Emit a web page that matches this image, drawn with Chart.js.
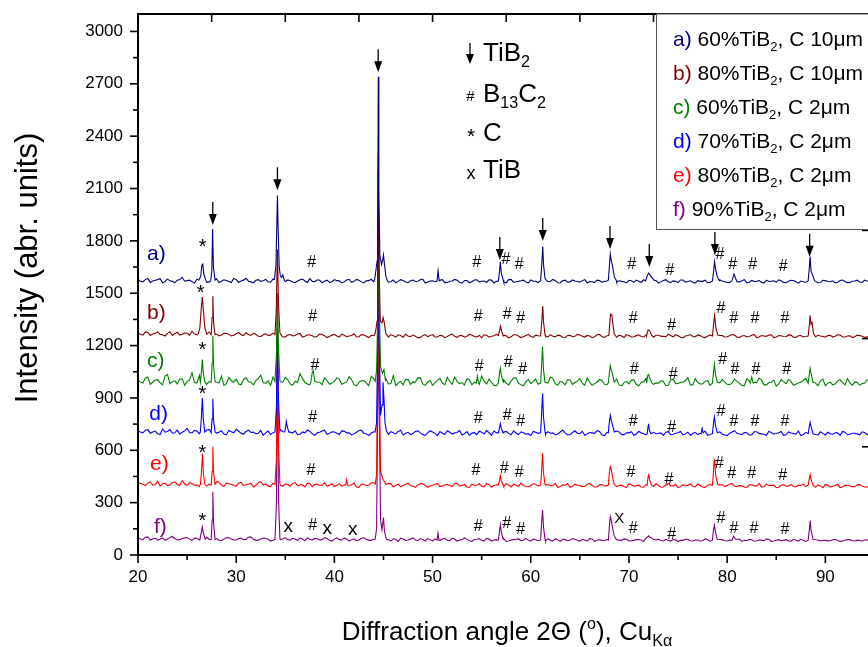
<!DOCTYPE html>
<html><head><meta charset="utf-8">
<style>
html,body{margin:0;padding:0;background:#fff;overflow:hidden;width:868px;height:647px}
#wrap{position:absolute;left:0;top:0;width:900px;height:647px}
canvas{display:block}
</style>
<script src="https://cdn.jsdelivr.net/npm/chart.js@4.4.0/dist/chart.umd.min.js"></script>
</head><body><div id="wrap"><canvas id="c" width="900" height="647"></canvas></div>
<script>
// ---------------- data ----------------
const GRID_START = 20, GRID_STEP = 0.5, MID_START = 20.25;   // baseline sampling grids (degrees 2θ)
const X_MIN = 20, X_MAX = 94.65, Y_MIN = 0, Y_MAX = 3100;
const xMajor = [20,30,40,50,60,70,80,90];
const xMinor = [25,35,45,55,65,75,85];
const yMajor = [0,300,600,900,1200,1500,1800,2100,2400,2700,3000];
const yMinor = [150,450,750,1050,1350,1650,1950,2250,2550,2850];
const topTicks = [27.5,35,42.5,50,57.5,65,72.5,80,87.5];
const rightTicks = [620,1240,1860,2480];

const seriesTags = ['a)','b)','c)','d)','e)','f)'];
const seriesPct = ['60%','80%','60%','70%','80%','90%'];
const seriesC = ['10μm','10μm','2μm','2μm','2μm','2μm'];
const seriesColors = ['#000080','#800000','#008000','#0000ff','#ff0000','#800080'];

const baseA = [1580,1565,1585,1570,1578,1560,1582,1568,1575,1590,
1572,1566,1580,1571,1562,1576,1584,1569,1573,1561,
1578,1570,1586,1565,1574,1568,1579,1563,1575,1582,
1567,1572,1560,1577,1570,1583,1566,1574,1569,1562,
1578,1571,1565,1580,1568,1574,1559,1572,1566,1579,
1570,1563,1576,1568,1573,1560,1575,1569,1581,1564,
1571,1567,1578,1562,1570,1574,1558,1572,1566,1577,
1569,1563,1575,1568,1572,1560,1579,1566,1571,1564,
1576,1569,1561,1574,1567,1572,1559,1575,1565,1570,
1563,1578,1567,1561,1573,1568,1575,1560,1571,1566,
1574,1562,1569,1577,1564,1570,1558,1573,1566,1571,
1561,1576,1567,1563,1572,1568,1560,1574,1565,1570,
1562,1577,1566,1571,1559,1573,1567,1562,1575,1569,
1564,1571,1560,1574,1566,1570,1563,1576,1568,1561,
1572,1566,1559,1573,1567,1562,1570,1564,1575,1568,
1563,1570,1566,1572,1561,1569,1565,1573,1562,1568];
const midA = [1568,1578,1562,1574,1583,1566,1571,1560,1579,1569,
1575,1558,1572,1580,1565,1573,1561,1577,1567,1584,
1563,1575,1569,1560,1578,1571,1566,1581,1559,1573,
1576,1564,1570,1581,1562,1568,1577,1560,1575,1566,
1572,1559,1576,1563,1579,1565,1571,1580,1561,1569,
1574,1566,1560,1578,1564,1572,1567,1577,1558,1570,
1566,1575,1561,1569,1579,1563,1573,1560,1576,1565,
1570,1577,1559,1573,1564,1578,1562,1568,1575,1560,
1569,1561,1574,1566,1579,1560,1571,1563,1576,1567,
1572,1559,1566,1575,1562,1570,1577,1564,1568,1559,
1571,1575,1563,1567,1559,1574,1565,1578,1561,1569,
1576,1564,1571,1558,1568,1575,1562,1570,1577,1566,
1560,1572,1565,1578,1563,1568,1574,1559,1567,1571,
1577,1562,1569,1573,1558,1566,1572,1564,1560,1574,
1567,1571,1563,1576,1561,1569,1575,1562,1570,1565];
const baseB = [1272,1260,1275,1266,1280,1262,1270,1258,1276,1265,
1271,1283,1262,1268,1257,1274,1266,1261,1270,1255,
1268,1262,1273,1258,1265,1252,1269,1260,1256,1267,
1250,1263,1258,1270,1254,1261,1248,1266,1257,1252,
1264,1249,1259,1255,1268,1251,1260,1246,1258,1253,
1265,1250,1257,1262,1248,1255,1260,1244,1257,1251,
1263,1249,1256,1252,1266,1247,1258,1254,1261,1250,
1245,1259,1253,1264,1249,1256,1251,1262,1246,1258,
1252,1260,1248,1255,1263,1250,1257,1245,1259,1253,
1261,1249,1255,1250,1264,1247,1256,1252,1260,1246,
1258,1251,1262,1249,1255,1248,1259,1253,1265,1250,
1256,1244,1258,1252,1261,1249,1254,1260,1247,1257,
1251,1263,1248,1255,1250,1259,1246,1257,1253,1262,
1249,1256,1251,1260,1247,1258,1252,1264,1250,1255,
1248,1259,1253,1261,1249,1256,1251,1258,1247,1255,
1252,1260,1249,1257,1251,1262,1248,1256,1253,1259];
const midB = [1265,1278,1258,1270,1264,1255,1279,1268,1260,1272,
1259,1266,1274,1256,1278,1262,1255,1271,1264,1259,
1275,1257,1264,1270,1253,1262,1258,1271,1264,1249,
1260,1255,1266,1249,1262,1257,1253,1264,1246,1260,
1255,1265,1251,1258,1249,1263,1254,1259,1266,1247,
1256,1262,1249,1258,1265,1251,1254,1247,1263,1258,
1250,1259,1245,1261,1253,1257,1248,1264,1252,1258,
1262,1248,1256,1251,1259,1244,1262,1255,1250,1264,
1247,1256,1262,1250,1254,1260,1246,1258,1251,1264,
1253,1258,1245,1262,1251,1256,1260,1248,1255,1263,
1249,1257,1252,1261,1245,1259,1254,1250,1258,1262,
1248,1255,1263,1250,1257,1246,1261,1253,1258,1249,
1256,1260,1247,1258,1252,1264,1249,1255,1260,1246,
1258,1252,1261,1248,1256,1250,1263,1247,1259,1253,
1257,1249,1262,1251,1255,1246,1260,1254,1250,1258];
const baseC = [1000,985,1020,990,1005,975,1035,992,980,1010,
995,1045,985,1000,978,1012,990,1025,982,998,
1008,975,1015,990,1000,1030,985,972,1005,993,
1018,980,996,1040,988,975,1002,990,1015,978,
995,1008,985,1022,976,990,1000,970,1012,988,
996,980,1028,985,975,1005,992,1015,980,990,
972,1002,985,1018,978,995,988,1010,975,992,
1025,980,990,970,1005,985,998,1015,975,992,
982,1008,970,990,1020,980,995,975,1003,988,
1012,972,990,982,1006,978,995,1018,975,988,
980,1002,970,992,1010,978,985,995,972,1008,
983,990,1015,975,988,980,1000,970,990,1006,
978,985,995,972,1010,980,988,1002,975,990,
968,1005,982,995,978,990,1012,975,985,998,
970,990,980,1004,975,988,992,972,985,1000,
978,990,975,1002,984,970,995,981,1006,976];
const midC = [992,1015,978,1003,988,1025,981,997,1008,972,
1002,988,1030,975,995,1010,985,972,1018,990,
980,1006,993,975,1012,987,998,1020,976,990,
1004,972,988,1012,980,1035,990,976,1000,985,
1015,978,992,1005,970,998,986,1024,975,993,
1010,982,970,996,1006,978,990,1016,972,1000,
988,1012,976,994,1020,982,974,1004,990,978,
996,1008,972,988,1002,975,1014,985,970,1006,
993,978,1000,985,1012,972,990,1004,978,996,
984,1015,972,990,1000,976,988,1008,970,995,
1002,978,990,1012,974,986,998,970,1005,982,
990,1000,975,1010,980,995,972,1004,986,992,
976,1008,985,970,998,990,1014,975,988,1002,
980,992,1006,972,986,1000,978,995,970,1008,
985,975,998,988,1010,972,990,982,1004,978];
const baseD = [712,700,718,705,695,722,708,698,715,703,
725,700,710,692,716,705,699,712,688,706,
720,698,708,702,695,714,700,690,709,718,
696,704,712,692,700,708,686,703,715,697,
705,690,710,700,694,713,698,685,706,702,
716,692,700,708,688,703,696,711,690,700,
705,684,698,712,693,702,688,707,697,690,
704,714,686,700,695,708,689,699,706,692,
685,703,710,694,698,688,705,700,690,712,
695,686,702,697,708,684,699,693,705,690,
700,686,709,695,690,703,698,685,707,692,
700,688,704,696,690,710,686,698,702,692,
684,705,697,690,700,688,706,694,686,701,
696,708,689,699,692,684,703,697,690,706,
688,695,700,686,704,692,698,688,702,694,
690,699,686,703,692,697,688,701,693,690];
const midD = [705,715,698,710,690,704,719,700,693,711,
702,714,695,708,720,699,704,693,713,700,
709,692,715,704,698,686,710,701,694,706,
712,699,690,705,716,694,700,710,692,706,
698,711,700,688,703,716,694,699,712,690,
701,707,694,715,698,690,708,700,686,712,
697,708,690,703,700,714,695,686,702,709,
693,700,710,688,704,697,712,690,700,695,
708,697,689,706,700,693,716,688,702,698,
709,694,700,712,687,703,696,710,690,700,
706,693,699,688,710,695,700,704,689,698,
708,694,686,703,697,710,690,700,706,688,
698,712,693,702,688,706,697,690,709,694,
700,686,705,696,710,690,699,704,688,697,
703,692,700,708,689,698,694,706,690,700];
const baseE = [418,405,412,400,422,408,396,415,404,425,
398,410,402,417,395,408,420,400,412,405,
393,415,403,410,398,420,406,392,412,400,
408,395,416,402,390,410,405,398,414,400,
392,409,402,396,412,388,405,400,415,395,
403,410,390,406,398,412,394,402,408,388,
400,410,396,404,392,412,398,390,406,400,
394,410,388,402,396,408,390,400,412,393,
398,405,386,402,396,410,392,400,388,406,
398,393,410,390,402,396,385,404,398,392,
408,395,400,388,405,394,400,390,410,396,
386,402,398,392,407,390,400,395,386,404,
398,410,392,396,388,402,395,390,406,398,
386,400,394,405,390,398,392,402,388,396,
404,390,398,386,400,395,392,404,390,398,
394,388,401,392,397,386,403,391,396,389];
const midE = [410,398,420,404,395,412,402,418,399,408,
415,400,392,410,406,398,417,393,408,400,
412,398,407,390,414,402,396,411,400,394,
404,410,396,402,412,391,406,400,395,408,
400,394,410,402,390,406,398,414,392,404,
397,409,400,392,406,398,388,410,400,395,
406,392,402,398,410,394,404,387,400,408,
390,403,398,410,392,400,406,394,398,390,
408,396,392,404,398,387,402,410,394,400,
392,406,398,390,404,396,410,392,400,386,
402,396,390,404,398,408,388,400,396,405,
392,400,408,390,398,386,404,395,400,392,
406,394,398,388,402,396,410,390,398,400,
388,404,396,392,400,406,390,398,402,386,
400,394,405,390,398,392,402,396,388,400];
const baseF = [100,88,104,92,85,98,90,106,86,95,
100,84,96,90,102,87,94,82,99,91,
86,97,89,104,84,92,96,80,94,88,
100,85,92,98,82,90,95,86,100,84,
91,88,97,80,93,86,99,84,90,95,
82,88,93,78,92,86,98,82,89,94,
80,87,92,84,96,80,88,91,78,90,
85,95,80,88,92,78,86,90,82,94,
79,87,91,80,85,93,78,88,84,90,
80,86,94,78,87,82,90,79,85,92,
80,84,89,78,86,82,91,80,85,88,
77,84,90,80,86,82,89,78,84,88,
80,86,90,78,83,87,80,85,91,78,
84,82,88,79,85,90,78,83,87,80,
84,82,89,78,85,88,80,83,86,79,
84,88,80,85,79,87,82,86,80,84];
const midF = [92,102,86,97,90,84,101,93,88,98,
91,97,86,104,89,95,83,92,100,86,
94,88,102,90,85,97,91,84,99,92,
88,96,83,92,98,85,93,88,95,80,
98,85,92,88,82,96,90,84,93,87,
95,80,90,97,84,91,86,94,80,88,
92,84,95,82,90,86,98,82,89,93,
80,91,86,84,95,80,88,92,84,86,
91,82,88,94,80,86,90,82,94,84,
88,80,92,85,84,90,78,88,84,90,
82,88,84,92,80,86,83,89,80,87,
84,90,82,86,80,92,78,85,89,82,
86,80,91,84,88,79,86,82,90,80,
88,84,81,90,80,85,88,79,86,83,
81,87,84,79,88,82,85,80,87,84];

// peaks: groups of [2θ, intensity] points
const peaksA = [
 [[26.2,1575],[26.4,1600],[26.5,1660],[26.6,1667],[26.7,1610],[26.9,1575]],
 [[27.4,1570],[27.52,1630],[27.6,1868],[27.68,1650],[27.85,1575]],
 [[33.9,1580],[34.05,1660],[34.14,1900],[34.2,2060],[34.27,1870],[34.38,1650],[34.5,1600],[34.62,1590],[34.75,1605],[34.9,1575]],
 [[44.1,1580],[44.25,1640],[44.35,1685],[44.42,1950],[44.47,2740],[44.53,2050],[44.63,1720],[44.8,1665],[44.92,1690],[45.0,1720],[45.1,1665],[45.25,1595],[45.4,1572]],
 [[50.45,1570],[50.56,1628],[50.67,1572]],
 [[56.7,1570],[56.82,1625],[56.9,1680],[57.0,1615],[57.2,1575]],
 [[61.0,1572],[61.12,1660],[61.22,1768],[61.3,1665],[61.45,1585],[61.6,1572]],
 [[67.9,1575],[68.0,1650],[68.1,1724],[68.2,1685],[68.32,1660],[68.5,1595],[68.7,1575]],
 [[71.7,1570],[71.85,1598],[71.98,1615],[72.1,1608],[72.3,1592],[72.6,1572]],
 [[78.5,1570],[78.62,1625],[78.72,1680],[78.82,1640],[79.0,1592],[79.2,1572]],
 [[80.5,1574],[80.7,1609],[80.9,1580]],
 [[88.25,1570],[88.37,1645],[88.45,1710],[88.55,1625],[88.7,1605],[88.9,1572]]
];
const peaksB = [
 [[26.1,1262],[26.3,1300],[26.45,1420],[26.55,1478],[26.65,1405],[26.8,1305],[27.0,1265]],
 [[27.45,1262],[27.55,1360],[27.62,1483],[27.7,1330],[27.85,1262]],
 [[33.95,1262],[34.08,1400],[34.2,1750],[34.3,1450],[34.45,1275]],
 [[44.1,1260],[44.25,1300],[44.35,1340],[44.42,1600],[44.47,2300],[44.55,1650],[44.68,1340],[44.85,1330],[44.97,1360],[45.08,1330],[45.25,1268]],
 [[56.7,1258],[56.85,1292],[56.92,1312],[57.05,1278],[57.2,1255]],
 [[61.0,1255],[61.12,1335],[61.22,1427],[61.3,1335],[61.45,1262]],
 [[67.95,1258],[68.05,1330],[68.12,1380],[68.25,1376],[68.35,1330],[68.5,1268]],
 [[71.8,1258],[71.95,1290],[72.1,1286],[72.3,1260]],
 [[78.5,1255],[78.62,1322],[78.72,1373],[78.85,1302],[79.05,1260]],
 [[88.25,1255],[88.38,1322],[88.45,1373],[88.55,1322],[88.65,1332],[88.8,1268]]
];
const peaksC = [
 [[26.35,992],[26.48,1062],[26.55,1120],[26.65,1042],[26.8,992]],
 [[27.45,990],[27.55,1100],[27.62,1255],[27.7,1080],[27.85,992]],
 [[33.95,995],[34.1,1150],[34.2,1500],[34.3,1200],[34.45,1000]],
 [[37.6,990],[37.75,1048],[37.85,1058],[38.0,995]],
 [[44.15,995],[44.3,1060],[44.42,1400],[44.47,2200],[44.55,1500],[44.7,1080],[44.9,1042],[45.05,1062],[45.2,1000]],
 [[54.45,985],[54.56,1025],[54.67,985]],
 [[56.7,985],[56.82,1042],[56.9,1070],[57.0,1032],[57.2,990]],
 [[61.0,985],[61.1,1080],[61.2,1195],[61.3,1060],[61.45,990]],
 [[67.9,985],[68.0,1042],[68.1,1086],[68.2,1062],[68.35,1030],[68.5,990]],
 [[71.8,985],[71.92,1030],[72.0,1034],[72.15,1010],[72.35,985]],
 [[78.5,985],[78.62,1050],[78.7,1092],[78.82,1032],[79.0,990]],
 [[82.35,985],[82.5,1020],[82.65,985]],
 [[88.25,985],[88.38,1040],[88.45,1069],[88.55,1040],[88.75,990]]
];
const peaksD = [
 [[26.35,705],[26.47,800],[26.55,900],[26.65,780],[26.8,705]],
 [[27.45,700],[27.55,780],[27.62,895],[27.7,770],[27.85,705]],
 [[33.95,705],[34.1,850],[34.2,1300],[34.3,900],[34.45,710]],
 [[34.95,705],[35.05,740],[35.1,766],[35.2,735],[35.35,705]],
 [[44.15,705],[44.3,760],[44.42,1200],[44.47,2000],[44.55,1300],[44.7,800],[44.85,860],[44.95,990],[45.05,900],[45.15,760],[45.3,710]],
 [[56.7,700],[56.82,730],[56.9,752],[57.0,725],[57.2,700]],
 [[61.0,700],[61.1,800],[61.2,925],[61.3,790],[61.45,705]],
 [[67.9,700],[68.0,760],[68.1,800],[68.2,770],[68.35,740],[68.5,705]],
 [[71.85,695],[71.95,740],[72.0,752],[72.08,715],[72.25,695]],
 [[77.35,695],[77.45,725],[77.55,700]],
 [[78.5,695],[78.62,760],[78.7,791],[78.82,740],[79.0,700]],
 [[88.25,695],[88.38,740],[88.45,760],[88.55,735],[88.75,695]]
];
const peaksE = [
 [[26.35,405],[26.47,480],[26.57,580],[26.67,460],[26.8,405]],
 [[27.45,400],[27.55,480],[27.62,620],[27.7,470],[27.85,405]],
 [[33.95,405],[34.1,550],[34.2,1500],[34.3,650],[34.45,410]],
 [[41.15,400],[41.25,430],[41.35,400]],
 [[44.15,405],[44.3,460],[44.42,1200],[44.47,2000],[44.55,1100],[44.7,480],[44.9,440],[45.1,420],[45.25,405]],
 [[56.7,400],[56.82,430],[56.9,454],[57.0,425],[57.2,400]],
 [[61.0,400],[61.1,480],[61.2,584],[61.3,470],[61.45,405]],
 [[67.9,400],[68.0,470],[68.1,507],[68.2,490],[68.35,440],[68.5,405]],
 [[71.85,400],[71.95,450],[72.0,465],[72.1,430],[72.3,400]],
 [[78.5,400],[78.6,470],[78.68,541],[78.75,520],[78.85,450],[79.05,405]],
 [[88.25,400],[88.38,440],[88.45,459],[88.55,430],[88.75,400]]
];
const peaksF = [
 [[26.3,90],[26.45,130],[26.55,160],[26.65,130],[26.85,90]],
 [[27.45,88],[27.55,200],[27.62,362],[27.7,180],[27.85,90]],
 [[33.95,90],[34.1,300],[34.2,1200],[34.3,350],[34.45,95]],
 [[44.15,90],[44.3,150],[44.42,900],[44.47,1700],[44.55,900],[44.7,200],[44.85,145],[45.0,215],[45.1,135],[45.3,90]],
 [[50.45,85],[50.55,125],[50.65,85]],
 [[56.7,85],[56.82,140],[56.9,172],[57.0,130],[57.2,90]],
 [[61.0,85],[61.1,180],[61.2,258],[61.3,160],[61.45,90]],
 [[67.9,85],[68.0,160],[68.1,220],[68.2,200],[68.35,150],[68.5,110],[68.7,90]],
 [[71.6,85],[71.8,100],[72.0,110],[72.2,100],[72.5,90]],
 [[78.5,85],[78.6,140],[78.7,172],[78.82,130],[79.0,90]],
 [[80.5,85],[80.65,108],[80.85,90]],
 [[88.25,85],[88.38,150],[88.45,198],[88.55,140],[88.75,90]]
];

// annotation marks, in data coordinates [2θ, intensity] (glyph centres / arrow tips)
const arrowTips = [[27.62,1891],[34.2,2090],[44.46,2766],[56.85,1690],[61.22,1799],[68.07,1753],[72.07,1650],[78.75,1719],[88.4,1709]];
const hashMarks = [
 [37.69,1685],[54.49,1681],[57.47,1702],[58.83,1673],[70.27,1673],[74.18,1639],[79.27,1730],[80.56,1673],[82.6,1673],[85.71,1662],
 [37.79,1375],[54.65,1375],[57.61,1385],[58.97,1362],[70.44,1362],[74.35,1324],[79.37,1420],[80.69,1362],[82.83,1362],[85.89,1362],
 [38.02,1093],[54.76,1089],[57.71,1108],[59.17,1070],[70.54,1070],[74.51,1042],[79.54,1128],[80.79,1070],[82.93,1070],[86.06,1070],
 [37.79,797],[54.65,790],[57.61,807],[58.97,774],[70.44,774],[74.35,740],[79.37,832],[80.69,774],[82.83,774],[85.89,770],
 [37.62,494],[54.42,492],[57.3,501],[58.83,479],[70.2,479],[74.07,441],[79.2,530],[80.46,473],[82.5,473],[85.65,465],
 [37.79,177],[54.65,173],[57.55,187],[58.97,155],[70.44,160],[74.35,126],[79.37,218],[80.69,160],[82.73,160],[85.89,155]
];
const starMarks = [[26.59,1795],[26.38,1536],[26.55,1204],[26.55,956],[26.55,616],[26.55,227]];
const tibMarks = [[35.31,160],[39.28,149],[41.86,141]];
const tibBigMarks = [[69.01,212]];
const seriesLabelPos = [[20.92,1732],[20.92,1394],[20.92,1118],[21.15,813],[21.22,527],[21.63,164]];

// ---------------- build ----------------
function buildSeries(base, mid, peaks) {
  const ranges = peaks.map(g => [g[0][0], g[g.length - 1][0]]);
  const pts = [];
  const add = (x, v) => { if (!ranges.some(r => x >= r[0] && x <= r[1])) pts.push({x: x, y: v}); };
  base.forEach((v, i) => add(GRID_START + i * GRID_STEP, v));
  mid.forEach((v, i) => add(MID_START + i * GRID_STEP, v));
  peaks.forEach(g => g.forEach(p => pts.push({x: p[0], y: p[1]})));
  pts.sort((a, b) => a.x - b.x);
  return pts;
}
const allBase = [baseA, baseB, baseC, baseD, baseE, baseF];
const allMid = [midA, midB, midC, midD, midE, midF];
const allPeaks = [peaksA, peaksB, peaksC, peaksD, peaksE, peaksF];

const FONT = '"Liberation Sans", Arial, Helvetica, sans-serif';

function rich(ctx, x, y, segs, size, align) {
  let w = 0;
  for (const s of segs) {
    ctx.font = (s[1] ? size * 0.62 : size) + 'px ' + FONT;
    w += ctx.measureText(s[0]).width;
  }
  let cx = align === 'center' ? x - w / 2 : x;
  ctx.textAlign = 'left';
  ctx.textBaseline = 'alphabetic';
  for (const s of segs) {
    const sz = s[1] ? size * 0.62 : size;
    ctx.font = sz + 'px ' + FONT;
    const dy = s[1] === 1 ? size * 0.24 : (s[1] === 2 ? -size * 0.42 : 0);
    ctx.fillStyle = s[2] || '#000';
    ctx.fillText(s[0], cx, y + dy);
    cx += ctx.measureText(s[0]).width;
  }
}
function glyph(ctx, ch, px, py, size, cf) {
  ctx.font = size + 'px ' + FONT;
  ctx.textAlign = 'center';
  ctx.textBaseline = 'alphabetic';
  ctx.fillStyle = '#000';
  ctx.fillText(ch, px, py + cf * size);
}
function arrow(ctx, px, tipY, len, headL, headW) {
  ctx.strokeStyle = '#000'; ctx.fillStyle = '#000'; ctx.lineWidth = 1.3;
  ctx.beginPath(); ctx.moveTo(px, tipY - len); ctx.lineTo(px, tipY - headL + 1); ctx.stroke();
  ctx.beginPath(); ctx.moveTo(px - headW / 2, tipY - headL); ctx.lineTo(px + headW / 2, tipY - headL); ctx.lineTo(px, tipY); ctx.closePath(); ctx.fill();
}
function seg(ctx, x1, y1, x2, y2) { ctx.beginPath(); ctx.moveTo(x1, y1); ctx.lineTo(x2, y2); ctx.stroke(); }

const decor = {
  id: 'decor',
  afterDraw(chart) {
    const ctx = chart.ctx, ca = chart.chartArea, xs = chart.scales.x, ys = chart.scales.y;
    ctx.save();
    // frame
    ctx.strokeStyle = '#000'; ctx.lineWidth = 2;
    ctx.strokeRect(ca.left, ca.top, ca.right - ca.left, ca.bottom - ca.top);
    ctx.lineWidth = 1.6;
    xMajor.forEach(v => { const p = xs.getPixelForValue(v); seg(ctx, p, ca.bottom, p, ca.bottom + 8); });
    xMinor.forEach(v => { const p = xs.getPixelForValue(v); seg(ctx, p, ca.bottom, p, ca.bottom + 5); });
    yMajor.forEach(v => { const p = ys.getPixelForValue(v); seg(ctx, ca.left, p, ca.left - 8, p); });
    yMinor.forEach(v => { const p = ys.getPixelForValue(v); seg(ctx, ca.left, p, ca.left - 5, p); });
    topTicks.forEach(v => { const p = xs.getPixelForValue(v); seg(ctx, p, ca.top, p, ca.top + 8); });
    rightTicks.forEach(v => { const p = ys.getPixelForValue(v); seg(ctx, ca.right, p, ca.right - 9, p); });

    // peak arrows
    arrowTips.forEach(a => arrow(ctx, xs.getPixelForValue(a[0]), ys.getPixelForValue(a[1]), 23, 11, 8));
    // phase marks
    hashMarks.forEach(m => glyph(ctx, '#', xs.getPixelForValue(m[0]), ys.getPixelForValue(m[1]), 16, 0.36));
    starMarks.forEach(m => glyph(ctx, '*', xs.getPixelForValue(m[0]), ys.getPixelForValue(m[1]), 20, 0.58));
    tibMarks.forEach(m => glyph(ctx, 'x', xs.getPixelForValue(m[0]), ys.getPixelForValue(m[1]), 19, 0.26));
    tibBigMarks.forEach(m => glyph(ctx, 'X', xs.getPixelForValue(m[0]), ys.getPixelForValue(m[1]), 15, 0.36));

    // series labels
    seriesTags.forEach((t, i) => {
      ctx.font = '21px ' + FONT; ctx.textAlign = 'left'; ctx.textBaseline = 'alphabetic';
      ctx.fillStyle = seriesColors[i];
      ctx.fillText(t, xs.getPixelForValue(seriesLabelPos[i][0]), ys.getPixelForValue(seriesLabelPos[i][1]) + 7);
    });

    // phase legend
    arrow(ctx, 470, 64, 21, 10, 8);
    rich(ctx, 483, 61, [['TiB', 0], ['2', 1]], 26);
    glyph(ctx, '#', 470.5, 96, 15, 0.36);
    rich(ctx, 483, 102, [['B', 0], ['13', 1], ['C', 0], ['2', 1]], 26);
    glyph(ctx, '*', 471, 131, 21, 0.58);
    rich(ctx, 483, 141, [['C', 0]], 26);
    glyph(ctx, 'x', 471, 174, 18, 0.26);
    rich(ctx, 483, 178, [['TiB', 0]], 26);

    // legend box
    ctx.fillStyle = '#fff'; ctx.fillRect(656, ca.top, 240, 215);
    ctx.strokeStyle = '#555'; ctx.lineWidth = 1;
    ctx.strokeRect(656.5, ca.top, 240, 215.5);
    seriesTags.forEach((t, i) => {
      rich(ctx, 673, 46 + i * 34, [[t + ' ', 0, seriesColors[i]], [seriesPct[i] + 'TiB', 0], ['2', 1], [', C ' + seriesC[i], 0]], 21);
    });

    // axis titles
    rich(ctx, 507, 640, [['Diffraction angle 2Θ (', 0], ['o', 2], ['), Cu', 0], ['Kα', 1]], 26, 'center');
    ctx.save();
    ctx.translate(37, 268); ctx.rotate(-Math.PI / 2);
    rich(ctx, 0, 0, [['Intensity (abr. units)', 0]], 31, 'center');
    ctx.restore();
    ctx.restore();
  }
};

const datasets = seriesTags.map((t, i) => ({
  label: t + ' ' + seriesPct[i] + 'TiB2, C ' + seriesC[i],
  data: buildSeries(allBase[i], allMid[i], allPeaks[i]),
  borderColor: seriesColors[i],
  borderWidth: 1.1,
  pointRadius: 0,
  fill: false,
  tension: 0
}));

function noPad(s) { s.paddingTop = 0; s.paddingBottom = 0; s.paddingLeft = 0; s.paddingRight = 0; }

new Chart(document.getElementById('c'), {
  type: 'line',
  data: { datasets: datasets },
  options: {
    responsive: false,
    animation: false,
    events: [],
    layout: { padding: { top: 14, right: 29, left: 0, bottom: 0 } },
    plugins: { legend: { display: false }, tooltip: { enabled: false } },
    scales: {
      x: {
        type: 'linear', min: X_MIN, max: X_MAX,
        grid: { display: false, drawTicks: false }, border: { display: false },
        ticks: { stepSize: 10, includeBounds: false, autoSkip: false, maxRotation: 0, padding: 12,
                 color: '#000', font: { family: FONT, size: 17 }, callback: v => String(v) },
        afterFit(s) { s.height = 92; noPad(s); }
      },
      y: {
        type: 'linear', min: Y_MIN, max: Y_MAX,
        grid: { display: false, drawTicks: false }, border: { display: false },
        ticks: { stepSize: 300, includeBounds: false, autoSkip: false, padding: 15,
                 color: '#000', font: { family: FONT, size: 17 }, callback: v => String(v) },
        afterFit(s) { s.width = 138; noPad(s); }
      }
    }
  },
  plugins: [decor]
});
</script></body></html>
